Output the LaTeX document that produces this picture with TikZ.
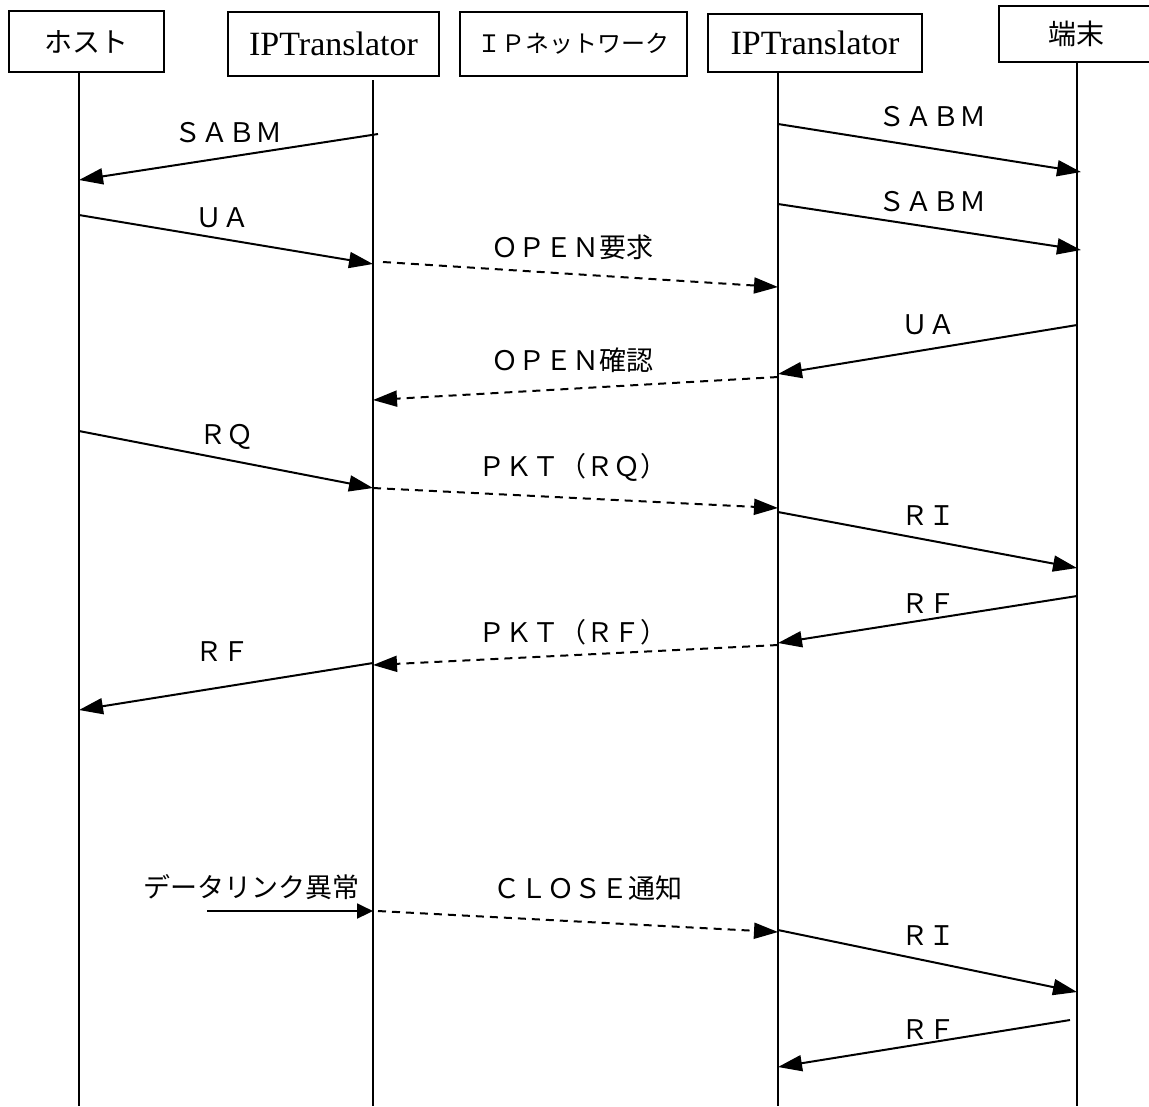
\documentclass[tikz,border=0pt]{standalone}
\usepackage{fontspec}
\setmainfont{Liberation Serif}
\newfontfamily\jpfont{Noto Sans CJK JP}
\usepackage{tikz}
\usetikzlibrary{arrows.meta,positioning}

\begin{document}
\begin{tikzpicture}[x=0.5bp,y=-0.5bp,
  every node/.style={inner sep=0pt},
  box/.style={draw, line width=1bp, rectangle, fill=white},
  jbox/.style={box, font=\jpfont\fontsize{14bp}{16bp}\selectfont},
  tbox/.style={box, font=\fontsize{17bp}{19bp}\selectfont},
  life/.style={line width=1bp},
  msg/.style={line width=1bp, -{Triangle[length=12bp,width=8bp]}},
  net/.style={msg, dash pattern=on 4bp off 3bp},
  lbl/.style={font=\jpfont\fontsize{13.5bp}{15bp}\selectfont}]

\useasboundingbox (0,0) rectangle (1149,1106);

% lifeline heads
\node [jbox, minimum width=77.5bp, minimum height=30.5bp] (host) at (86.5,41.5) {ホスト};
\node [tbox, minimum width=105.5bp, minimum height=32bp] (ipt1) at (333.5,44) {IPTranslator};
\node [jbox, font=\jpfont\fontsize{12bp}{14bp}\selectfont,
       minimum width=113.5bp, minimum height=32bp] (ipnet) at (573.5,44) {ＩＰネットワーク};
\node [tbox, minimum width=107bp, minimum height=29bp] (ipt2) at (815,43) {IPTranslator};
\node [jbox, minimum width=77bp, minimum height=28bp] (term) at (1076,34) {端末};

\coordinate (hl) at (79,72);
\coordinate (tl1) at (373,80);
\coordinate (tl2) at (778,72);
\coordinate (tml) at (1077,62);

\draw [life] (hl) -- (hl |- 0,1106);
\draw [life] (tl1) -- (tl1 |- 0,1106);
\draw [life] (tl2) -- (tl2 |- 0,1106);
\draw [life] (tml) -- (tml |- 0,1106);

% link setup
\draw [msg] ([xshift=2.5bp]tl1 |- 0,134) -- (hl |- 0,180);
\node [lbl] (m1) at (228,133) {ＳＡＢＭ};
\draw [msg] (tl2 |- 0,124) -- ([xshift=2bp]tml |- 0,172);
\node [lbl] (m2) at (932,117) {ＳＡＢＭ};
\draw [msg] (tl2 |- 0,204) -- ([xshift=2bp]tml |- 0,250);
\node [lbl] (m3) at (932,202) {ＳＡＢＭ};
\draw [msg] (hl |- 0,215) -- (tl1 |- 0,264);
\node [lbl] (m4) at (222,218) {ＵＡ};
\draw [net] ([xshift=5bp]tl1 |- 0,262) -- (tl2 |- 0,287);
\node [lbl] (m5) at (572,247) {ＯＰＥＮ要求};
\draw [msg] (tml |- 0,325) -- (tl2 |- 0,374);
\node [lbl] (m6) at (928,325) {ＵＡ};
\draw [net] (tl2 |- 0,377) -- (tl1 |- 0,400);
\node [lbl] (m7) at (572,360) {ＯＰＥＮ確認};

% data
\draw [msg] (hl |- 0,431) -- (tl1 |- 0,488);
\node [lbl] (m8) at (226,437) {ＲＱ};
\draw [net] (tl1 |- 0,488) -- (tl2 |- 0,508);
\node [lbl] (m9) at (573,467) {ＰＫＴ（ＲＱ）};
\draw [msg] (tl2 |- 0,512) -- (tml |- 0,568);
\node [lbl] (m10) at (928,516) {ＲＩ};
\draw [msg] (tml |- 0,596) -- (tl2 |- 0,643);
\node [lbl] (m11) at (928,604) {ＲＦ};
\draw [net] (tl2 |- 0,645) -- (tl1 |- 0,665);
\node [lbl] (m12) at (573,632) {ＰＫＴ（ＲＦ）};
\draw [msg] (tl1 |- 0,663) -- (hl |- 0,710);
\node [lbl] (m13) at (222,652) {ＲＦ};

% link failure
\coordinate (err) at (207,911);
\draw [line width=1bp, -{Triangle[length=8bp,width=7.5bp]}] (err) -- (tl1 |- err);
\node [lbl] (m14) at (251,887) {データリンク異常};
\draw [net] ([xshift=2.5bp]tl1 |- 0,911) -- (tl2 |- 0,932);
\node [lbl] (m15) at (588,888) {ＣＬＯＳＥ通知};
\draw [msg] (tl2 |- 0,930) -- (tml |- 0,992);
\node [lbl] (m16) at (928,936) {ＲＩ};
\draw [msg] ([xshift=-3.5bp]tml |- 0,1020) -- (tl2 |- 0,1067);
\node [lbl] (m17) at (928,1030) {ＲＦ};

\end{tikzpicture}
\end{document}
